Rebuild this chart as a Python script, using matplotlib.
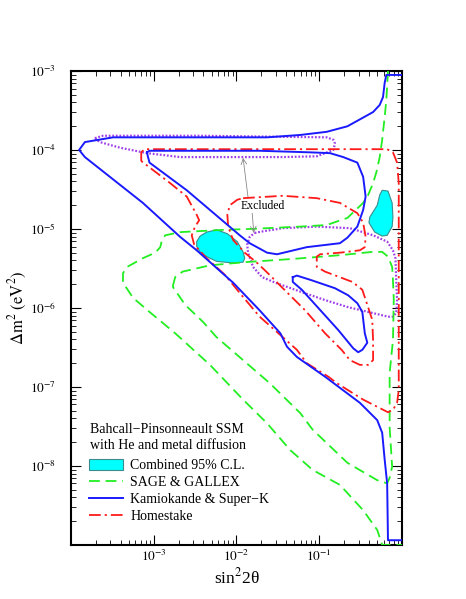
import numpy as np
import matplotlib
matplotlib.use("Agg")
import matplotlib.pyplot as plt
from matplotlib.patches import Patch
from matplotlib.lines import Line2D

plt.rcParams["font.family"] = ["Liberation Serif", "DejaVu Serif"]
plt.rcParams["mathtext.fontset"] = "stix"

# -----------------------------
# Contours, as log10(sin^2 2theta), log10(dm^2)
# -----------------------------
# Kamiokande & Super-K (outer boundary, open at the right edge)
kam_outer_lx = [0.00, -0.19, -0.21, -0.23, -0.27, -0.35, -0.47, -0.66, -0.91, -1.23, -1.63,
                -2.44, -3.49, -3.83, -3.90, -3.83, -3.13, -2.68, -2.48, -2.04, -1.72, -1.47,
                -1.39, -1.27, -0.93, -0.51, -0.30, -0.24, -0.21, -0.18, -0.17, 0.00]
kam_outer_ly = [-3.05, -3.05, -3.15, -3.33, -3.43, -3.52, -3.59, -3.70, -3.77, -3.81, -3.84,
                -3.84, -3.84, -3.90, -4.00, -4.09, -4.67, -5.10, -5.27, -5.68, -6.03, -6.32,
                -6.49, -6.62, -6.87, -7.20, -7.42, -7.58, -7.92, -8.22, -8.94, -8.94]
# Kamiokande & Super-K (inner hole)
kam_hole_lx = [-3.08, -3.05, -2.44, -1.72, -1.11, -0.87, -0.71, -0.54, -0.47, -0.44, -0.47,
               -0.54, -0.66, -0.75, -0.91, -1.15, -1.39, -1.51, -1.63, -1.84, -1.96, -2.60,
               -3.05, -3.07, -3.08]
kam_hole_ly = [-4.03, -4.01, -4.01, -4.01, -4.03, -4.04, -4.09, -4.16, -4.34, -4.59, -4.76,
               -4.97, -5.11, -5.18, -5.20, -5.23, -5.29, -5.32, -5.30, -5.18, -5.08, -4.51,
               -4.16, -4.08, -4.03]
# Kamiokande & Super-K (small island)
kam_small_lx = [-1.32, -1.27, -1.09, -0.81, -0.65, -0.54, -0.48, -0.45, -0.42, -0.48, -0.53,
                -0.59, -0.77, -1.02, -1.21, -1.32, -1.32]
kam_small_ly = [-5.61, -5.59, -5.65, -5.75, -5.84, -5.94, -6.05, -6.32, -6.44, -6.53, -6.56,
                -6.51, -6.28, -5.99, -5.77, -5.67, -5.61]

# SAGE & GALLEX
gal_outer_lx = [-0.17, -0.19, -0.21, -0.24, -0.27, -0.31, -0.35, -0.41, -0.47, -0.57, -0.66,
                -0.91, -1.23, -1.84, -2.14, -2.68, -2.86, -2.90, -2.92, -2.98, -3.13, -3.32,
                -3.37, -3.37, -3.25, -3.05, -2.74, -2.32, -1.92, -1.63, -1.35, -1.08, -0.75,
                -0.47, -0.30, -0.24, 0.00]
gal_outer_ly = [-3.00, -3.37, -3.58, -3.87, -4.09, -4.28, -4.42, -4.57, -4.67, -4.77, -4.86,
                -4.95, -4.97, -5.00, -5.01, -5.04, -5.08, -5.14, -5.23, -5.30, -5.37, -5.48,
                -5.56, -5.68, -5.87, -6.05, -6.32, -6.72, -7.16, -7.46, -7.80, -8.05, -8.24,
                -8.56, -8.81, -9.00, -9.00]
gal_inner_lx = [-2.77, -2.74, -2.65, -2.32, -1.90, -1.33, -0.73, -0.36, -0.24, -0.17, -0.12,
                -0.11, -0.10, -0.11, -0.15, -0.15, -0.12, -0.15, -0.18, -0.30, -0.66, -1.08,
                -1.23, -1.60, -1.92, -2.24, -2.40, -2.62, -2.77]
gal_inner_ly = [-5.73, -5.61, -5.54, -5.46, -5.42, -5.38, -5.33, -5.29, -5.29, -5.35, -5.48,
                -5.65, -5.90, -6.41, -6.82, -7.51, -8.01, -8.15, -8.22, -8.18, -7.96, -7.54,
                -7.33, -6.95, -6.66, -6.37, -6.18, -5.96, -5.73]

# Homestake
hom_outer_lx = [-3.15, -3.15, -3.11, -2.44, -1.23, -0.18, -0.11, -0.06, -0.04, -0.04, -0.04,
                -0.06, -0.11, -0.17, -0.47, -0.79, -0.89, -1.15, -1.27, -1.44, -1.72, -1.96,
                -2.14, -2.36, -2.51, -2.54, -2.50, -2.45, -2.48, -2.60, -2.80, -3.05, -3.15]
hom_outer_ly = [-4.14, -4.03, -3.99, -3.99, -3.99, -3.99, -4.03, -4.16, -4.42, -5.90, -7.04,
                -7.20, -7.29, -7.32, -7.16, -6.95, -6.87, -6.70, -6.53, -6.37, -6.11, -5.81,
                -5.58, -5.37, -5.20, -5.08, -4.97, -4.89, -4.82, -4.59, -4.42, -4.22, -4.14]
hom_inner_lx = [-1.92, -1.44, -1.03, -0.75, -0.54, -0.47, -0.44, -0.45, -0.51, -0.75, -0.99,
                -1.03, -1.03, -0.93, -0.60, -0.48, -0.41, -0.36, -0.35, -0.35, -0.41, -0.51,
                -0.63, -0.73, -0.93, -1.17, -1.44, -1.62, -1.75, -1.90, -2.04, -2.10, -2.11,
                -2.08, -1.99, -1.92]
hom_inner_ly = [-4.61, -4.58, -4.61, -4.67, -4.80, -4.92, -5.10, -5.23, -5.27, -5.30, -5.32,
                -5.35, -5.48, -5.54, -5.67, -5.77, -5.99, -6.15, -6.41, -6.66, -6.72, -6.72,
                -6.66, -6.53, -6.32, -6.03, -5.75, -5.56, -5.43, -5.30, -5.14, -4.97, -4.82,
                -4.70, -4.63, -4.61]

# Excluded regions (dotted)
exc_upper_lx = [-3.71, -3.61, -2.44, -0.91, -0.83, -0.81, -0.83, -1.03, -1.44, -1.99, -2.68,
                -3.08, -3.41, -3.65, -3.71]
exc_upper_ly = [-3.85, -3.82, -3.82, -3.84, -3.87, -3.92, -4.00, -4.08, -4.09, -4.09, -4.09,
                -4.04, -3.97, -3.90, -3.85]
exc_lower_lx = [-1.78, -1.68, -1.44, -1.03, -0.63, -0.35, -0.18, -0.11, -0.08, -0.07, -0.06,
                -0.07, -0.11, -0.17, -0.41, -0.65, -0.93, -1.21, -1.53, -1.69, -1.80, -1.86,
                -1.87, -1.84, -1.78]
exc_lower_ly = [-5.05, -5.03, -4.99, -4.97, -4.99, -5.08, -5.16, -5.27, -5.37, -5.65, -5.90,
                -6.06, -6.11, -6.11, -6.05, -5.99, -5.90, -5.80, -5.68, -5.61, -5.48, -5.30,
                -5.20, -5.10, -5.05]

# Combined 95% C.L. islands
comb_left_lx = [-2.48, -2.44, -2.36, -2.24, -2.11, -1.99, -1.92, -1.90, -1.92, -2.04, -2.24,
                -2.36, -2.44, -2.48]
comb_left_ly = [-5.16, -5.09, -5.04, -5.01, -5.06, -5.16, -5.29, -5.37, -5.42, -5.43, -5.41,
                -5.35, -5.29, -5.22]
comb_right_lx = [-0.24, -0.17, -0.12, -0.11, -0.12, -0.18, -0.24, -0.33, -0.40, -0.39, -0.30,
                 -0.27]
comb_right_ly = [-4.51, -4.52, -4.67, -4.85, -4.97, -5.08, -5.09, -5.04, -4.92, -4.85, -4.70,
                 -4.57]

xticks = [1e-3, 1e-2, 1e-1]
xtick_labels = [r"$10^{-3}$", r"$10^{-2}$", r"$10^{-1}$"]
yticks = [1e-8, 1e-7, 1e-6, 1e-5, 1e-4, 1e-3]
ytick_labels = [r"$10^{-8}$", r"$10^{-7}$", r"$10^{-6}$", r"$10^{-5}$", r"$10^{-4}$", r"$10^{-3}$"]

title_lines = ["Bahcall−Pinsonneault SSM", "with He and metal diffusion"]
legend_labels = ["Combined 95% C.L.", "SAGE & GALLEX", "Kamiokande & Super−K", "Homestake"]

# -----------------------------
# Styles
# -----------------------------
c_blue = "#1a1aff"
c_green = "#22ee22"
c_red = "#ff1a1a"
c_purple = "#a040e8"
c_cyan = "#00ffff"
c_cyan_edge = "#3b8c8c"
green_dash = (0, (6, 3.2))
red_dashdot = (0, (6.5, 2.2, 1.2, 2.2))


def p(vals):
    return np.power(10.0, np.array(vals))


fig = plt.figure(figsize=(4.66, 5.99), dpi=100)
ax = fig.add_axes([0.152, 0.0902, 0.7108, 0.7913])

ax.fill(p(comb_left_lx), p(comb_left_ly), facecolor=c_cyan, edgecolor=c_cyan_edge, lw=0.8, zorder=2)
ax.fill(p(comb_right_lx), p(comb_right_ly), facecolor=c_cyan, edgecolor=c_cyan_edge, lw=0.8, zorder=2)

for lx, ly in [(exc_upper_lx, exc_upper_ly), (exc_lower_lx, exc_lower_ly)]:
    ax.plot(p(lx), p(ly), color=c_purple, lw=1.6, linestyle=(0, (0.8, 0.8)), zorder=3)

for lx, ly in [(gal_outer_lx, gal_outer_ly), (gal_inner_lx, gal_inner_ly)]:
    ax.plot(p(lx), p(ly), color=c_green, lw=1.3, linestyle=green_dash, zorder=3)

for lx, ly in [(hom_outer_lx, hom_outer_ly), (hom_inner_lx, hom_inner_ly)]:
    ax.plot(p(lx), p(ly), color=c_red, lw=1.3, linestyle=red_dashdot, zorder=4)

for lx, ly in [(kam_outer_lx, kam_outer_ly), (kam_hole_lx, kam_hole_ly), (kam_small_lx, kam_small_ly)]:
    ax.plot(p(lx), p(ly), color=c_blue, lw=1.4, zorder=5)

# "Excluded" label with arrows to the dotted regions
ax.text(10 ** -1.68, 10 ** -4.71, "Excluded", fontsize=8.5, ha="center", va="center", zorder=6)
ax.annotate("", xy=(10 ** -1.92, 10 ** -4.10), xytext=(10 ** -1.86, 10 ** -4.60),
            arrowprops=dict(arrowstyle="->", color="#888888", lw=0.6, shrinkA=0, shrinkB=0))
ax.annotate("", xy=(10 ** -1.79, 10 ** -5.05), xytext=(10 ** -1.81, 10 ** -4.80),
            arrowprops=dict(arrowstyle="->", color="#888888", lw=0.6, shrinkA=0, shrinkB=0))

ax.set_xscale("log")
ax.set_yscale("log")
ax.set_xlim(1e-4, 1)
ax.set_ylim(1e-9, 1e-3)
ax.set_xticks(xticks)
ax.set_xticklabels(xtick_labels)
ax.set_yticks(yticks)
ax.set_yticklabels(ytick_labels)
ax.tick_params(which="both", direction="in", top=True, right=True, labelsize=9.5)
ax.tick_params(which="major", length=7, width=0.8)
ax.tick_params(which="minor", length=3.5, width=0.6)
ax.tick_params(axis="x", pad=3)
ax.tick_params(axis="y", pad=10.5)
for s in ax.spines.values():
    s.set_linewidth(1.5)

ax.set_xlabel(r"sin$^2$2θ", fontsize=12.5, labelpad=2)
ax.set_ylabel(r"$\Delta\mathrm{m}^2\ (\mathrm{eV}^2)$", fontsize=12, labelpad=1)

# legend: two header lines, then the four entries
ax.text(0.057, 0.243, title_lines[0], transform=ax.transAxes, fontsize=10, va="center")
ax.text(0.057, 0.209, title_lines[1], transform=ax.transAxes, fontsize=10, va="center")
handles = [
    Patch(facecolor=c_cyan, edgecolor=c_cyan_edge, lw=0.8),
    Line2D([], [], color=c_green, lw=1.3, linestyle=green_dash),
    Line2D([], [], color=c_blue, lw=1.4),
    Line2D([], [], color=c_red, lw=1.3, linestyle=red_dashdot),
]
leg = ax.legend(handles, legend_labels, loc="upper left", bbox_to_anchor=(0.054, 0.182),
                frameon=False, fontsize=10,
                handlelength=2.5, handleheight=0.9, handletextpad=0.5,
                labelspacing=0.25, borderpad=0, borderaxespad=0)

fig.savefig("out.png", dpi=100)
